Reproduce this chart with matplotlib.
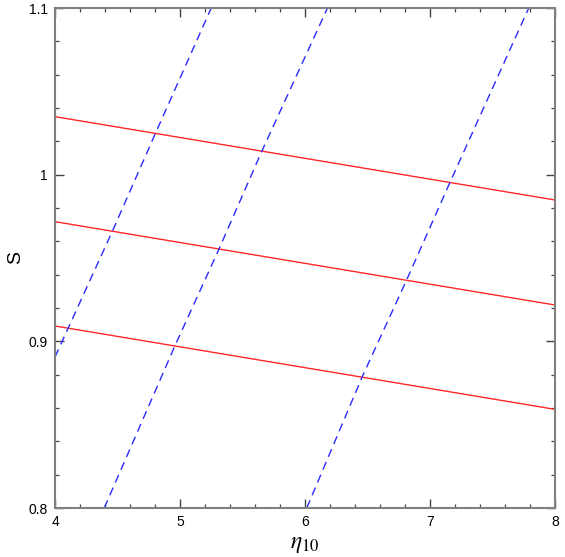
import matplotlib
matplotlib.use("Agg")
import matplotlib.pyplot as plt
from matplotlib.ticker import MultipleLocator

plt.rcParams['font.family'] = ['Liberation Sans', 'DejaVu Sans']
plt.rcParams['mathtext.fontset'] = 'stix'

# Red solid lines (S vs eta10), endpoints at eta = 4 and 8
red_eta = [4.0, 8.0]
red_S_top = [1.0348, 0.9848]
red_S_mid = [0.9718, 0.9218]
red_S_bot = [0.9092, 0.8592]

# Blue dashed lines
blue1_eta = [4.0, 4.107, 4.461, 4.80, 5.25]
blue1_S = [0.8906, 0.9082, 0.9664, 1.0242, 1.10]
blue2_eta = [4.394, 4.96, 5.312, 5.653, 6.18]
blue2_S = [0.80, 0.8974, 0.9554, 1.0138, 1.10]
blue3_eta = [6.014, 6.458, 6.813, 7.16, 7.79]
blue3_S = [0.80, 0.8788, 0.9368, 0.9954, 1.10]

fig = plt.figure(figsize=(5.65, 5.57), dpi=100)
ax = fig.add_axes([55/565, 49/557, 500/565, 500/557])

red = '#ff2a2a'
blue = '#2a2aff'
for ys in (red_S_top, red_S_mid, red_S_bot):
    ax.plot(red_eta, ys, color=red, lw=1.0)
for xs, ys in ((blue1_eta, blue1_S), (blue2_eta, blue2_S), (blue3_eta, blue3_S)):
    ax.plot(xs, ys, color=blue, lw=1.0, dashes=(6, 4))

ax.set_xlim(4, 8)
ax.set_ylim(0.8, 1.1)
ax.xaxis.set_minor_locator(MultipleLocator(0.2))
ax.yaxis.set_minor_locator(MultipleLocator(0.02))
ax.set_yticks([0.8, 0.9, 1.0, 1.1])
ax.set_yticklabels(['0.8', '0.9', '1', '1.1'])
ax.set_xticks([4, 5, 6, 7, 8])
ax.set_xticklabels(['4', '5', '6', '7', '8'])

ax.tick_params(which='both', direction='in', top=True, right=True,
               colors='#444444', labelcolor='black', labelsize=10)
ax.tick_params(which='major', length=6.5, width=1.0, pad=5)
ax.tick_params(which='minor', length=3.2, width=0.9)
for s in ax.spines.values():
    s.set_color('#808080')
    s.set_linewidth(1.5)

fig.text(305/565, 1 - 544/557, r'$\eta_{10}$', fontsize=17, ha='center', va='center')
fig.text(16/565, 1 - 258/557, 'S', fontsize=14, ha='center', va='center', rotation=90)

fig.savefig('out.png', dpi=100)
